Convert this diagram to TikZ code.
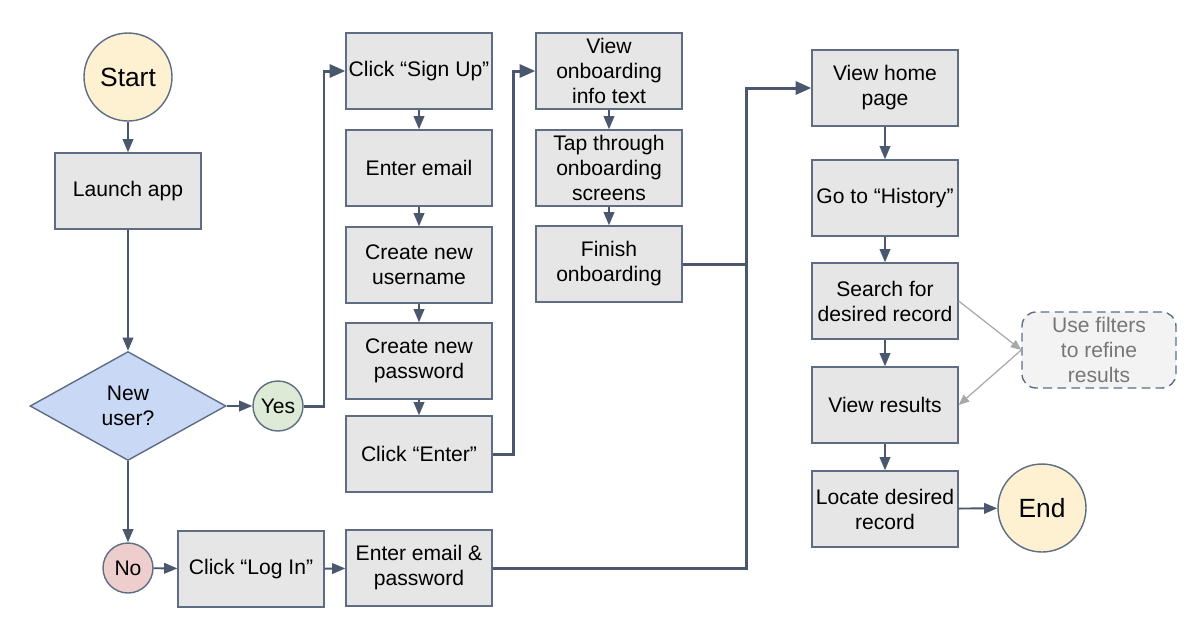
\documentclass[tikz,border=0pt]{standalone}
\usepackage{fontspec}
\setmainfont{Liberation Sans}
\usetikzlibrary{arrows.meta,shapes.geometric}

\definecolor{linecol}{HTML}{4A576D}
\definecolor{bordercol}{HTML}{5E6D84}
\definecolor{boxfill}{HTML}{E6E6E6}
\definecolor{termfill}{HTML}{FDF1D2}
\definecolor{yesfill}{HTML}{DDEBD6}
\definecolor{nofill}{HTML}{EECDCD}
\definecolor{askfill}{HTML}{C9D9F5}
\definecolor{notefill}{HTML}{F3F3F3}
\definecolor{notetext}{HTML}{777777}
\definecolor{noteline}{HTML}{A8A8A8}

\tikzset{
  stepbox/.style={draw=bordercol, line width=0.8pt, fill=boxfill, align=center,
    minimum width=2.92cm, minimum height=1.52cm, inner sep=1pt,
    font=\fontsize{12pt}{14.2pt}\selectfont},
  terminal/.style={circle, draw=bordercol, line width=0.8pt, fill=termfill,
    minimum size=1.76cm, inner sep=0pt, font=\fontsize{15pt}{17pt}\selectfont},
  answer/.style={circle, draw=bordercol, line width=0.8pt,
    minimum size=1.0cm, inner sep=0pt, font=\fontsize{12pt}{14pt}\selectfont},
  arr/.style={draw=linecol, line width=1.1pt, -{Triangle[length=7.5pt,width=6pt]}},
  flow/.style={draw=linecol, line width=1.7pt, -{Triangle[length=9pt,width=7.5pt]}},
  flowline/.style={draw=linecol, line width=1.7pt},
  hint/.style={draw=noteline, line width=0.7pt, -{Triangle[length=6pt,width=5pt]}}
}

\begin{document}
\begin{tikzpicture}[x=0.02cm, y=-0.02cm]
  \useasboundingbox (0,0) rectangle (1200,620);

  % left column
  \node[terminal] (start) at (128,77) {Start};
  \node[stepbox] (launch) at (128,191) {Launch app};
  \node[diamond, draw=bordercol, line width=0.8pt, fill=askfill, align=center,
    minimum width=3.92cm, minimum height=2.18cm, inner sep=0pt,
    font=\fontsize{12pt}{14.2pt}\selectfont] (newuser) at (128,406) {New\\user?};
  \node[answer, fill=yesfill] (yes) at (278,406) {Yes};
  \node[answer, fill=nofill] (no) at (128,568) {No};
  \node[stepbox] (login) at (251,569) {Click “Log In”};
  \node[stepbox] (emailpw) at (419,568) {Enter email \&\\password};

  % sign up column
  \node[stepbox] (signup) at (419,71) {Click “Sign Up”};
  \node[stepbox] (email) at (419,168) {Enter email};
  \node[stepbox] (username) at (419,265) {Create new\\username};
  \node[stepbox] (password) at (419,361) {Create new\\password};
  \node[stepbox] (enter) at (419,454) {Click “Enter”};

  % onboarding column
  \node[stepbox] (info) at (609,71) {View\\onboarding\\info text};
  \node[stepbox] (screens) at (609,168) {Tap through\\onboarding\\screens};
  \node[stepbox] (finish) at (609,264) {Finish\\onboarding};

  % home column
  \node[stepbox] (home) at (885,88) {View home\\page};
  \node[stepbox] (history) at (885,198) {Go to “History”};
  \node[stepbox] (search) at (885,301) {Search for\\desired record};
  \node[stepbox] (results) at (885,405) {View results};
  \node[stepbox] (locate) at (885,509) {Locate desired\\record};
  \node[terminal] (end) at (1042,508) {End};
  \node[draw=bordercol, dash pattern=on 5pt off 3pt, line width=0.8pt, rounded corners=8pt,
    fill=notefill, text=notetext, align=center, minimum width=3.08cm, minimum height=1.52cm,
    inner sep=1pt, font=\fontsize{12pt}{14.2pt}\selectfont] (filters) at (1099,350)
    {Use filters\\to refine\\results};

  \coordinate (ysplit) at (324,406);
  \coordinate (esplit) at (513,454);
  \coordinate (hsplit) at (746,264);

  \draw[arr] (start) -- (launch);
  \draw[arr] (launch) -- (newuser);
  \draw[arr] (newuser.east) -- (yes);
  \draw[arr] (newuser.south) -- (no);
  \draw[arr] (no) -- (login);
  \draw[arr] (login) -- (emailpw);
  \draw[flow] (yes.east) -- (ysplit) |- (signup.west);
  \draw[arr] (signup) -- (email);
  \draw[arr] (email) -- (username);
  \draw[arr] (username) -- (password);
  \draw[arr] (password) -- (enter);
  \draw[flow] (enter.east) -- (esplit) |- (info.west);
  \draw[arr] (info) -- (screens);
  \draw[arr] (screens) -- (finish);
  \draw[flow] (finish.east) -- (hsplit) |- (home.west);
  \draw[flowline] (emailpw.east) -| (hsplit);
  \draw[arr] (home) -- (history);
  \draw[arr] (history) -- (search);
  \draw[arr] (search) -- (results);
  \draw[arr] (results) -- (locate);
  \draw[arr] (locate) -- (end);
  \draw[hint] (search.east) -- (filters.west);
  \draw[hint] (filters.west) -- (results.east);
\end{tikzpicture}
\end{document}
